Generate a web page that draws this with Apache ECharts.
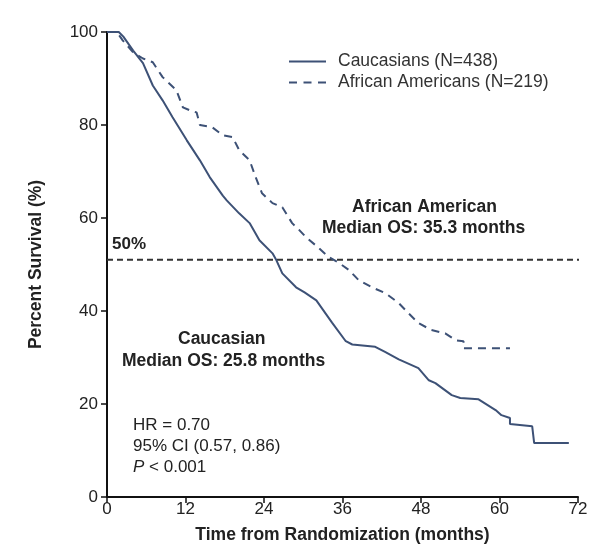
<!DOCTYPE html>
<html>
<head>
<meta charset="utf-8">
<script src="https://cdn.jsdelivr.net/npm/echarts@6/dist/echarts.min.js"></script>
<style>
  html, body { margin: 0; padding: 0; background: #fff; }
  #chart { width: 600px; height: 552px; }
</style>
</head>
<body>
<div id="chart"></div>
<script>
// ---- Data (months, percent survival) ----
const xTicks = [0, 12, 24, 36, 48, 60, 72];
const yTicks = [0, 20, 40, 60, 80, 100];

const caucasianT = [0, 1.8, 2.5, 4, 5.5, 7, 8.5, 10, 12.2, 14.2, 15.7, 17.7, 18.3, 20.2, 21.8, 23.3, 25.3, 25.9, 26.8, 28.9, 30.2, 32, 34.4, 36.5, 37.5, 41, 42.5, 44.6, 47.6, 49.2, 50.2, 52.7, 54, 56.8, 59.4, 60.3, 61.6, 61.6, 65, 65.3, 70.6];
const caucasianV = [100, 100, 99, 96, 93.3, 88.5, 85.3, 81.7, 76.7, 72.4, 68.8, 64.8, 63.8, 61, 58.9, 55.2, 52.4, 50.9, 48.1, 45.1, 44, 42.3, 37.5, 33.5, 32.8, 32.3, 31.2, 29.6, 27.7, 25.1, 24.5, 21.9, 21.3, 21.0, 18.7, 17.6, 17, 15.7, 15.2, 11.6, 11.6];

const africanT = [0, 1.5, 2.4, 4, 5.5, 7, 8.5, 10.6, 11.6, 12.6, 13.7, 14.2, 16.1, 17.7, 19.2, 20.2, 21.8, 22.8, 23.7, 25.3, 26.8, 28.3, 29.4, 30.4, 32, 33.9, 35.5, 37, 38.5, 40.5, 42.6, 44.6, 46.1, 47.6, 49.6, 51.7, 53.3, 54.5, 54.5, 61.6];
const africanV = [100, 100, 98.2, 95.6, 94.3, 93.5, 90.3, 87.5, 83.8, 83.2, 82.7, 80, 79.5, 77.8, 77.4, 74.6, 72.4, 68.5, 65.3, 63.2, 62.3, 58.9, 57.4, 55.9, 54, 51.6, 50.3, 48.8, 46.6, 45.1, 43.8, 41.7, 39.5, 37.4, 35.9, 35.2, 33.7, 33.5, 32, 32];

const medianLevel = 51;      // "50%" reference line as drawn
const seriesNames = ['Caucasians (N=438)', 'African Americans (N=219)'];

// ---- Build options ----
const zip = (t, v) => t.map((x, i) => [x, v[i]]);
const curveColor = '#3d5176';
const textColor = '#222';
const font = 'Liberation Sans, Arial, sans-serif';
const fs = 17.5;

const chart = echarts.init(document.getElementById('chart'), null, { renderer: 'canvas' });
chart.setOption({
  animation: false,
  backgroundColor: '#fff',
  textStyle: { fontFamily: font },
  grid: { left: 107, right: 22, top: 32, bottom: 55, containLabel: false },
  legend: {
    orient: 'vertical',
    left: 289,
    top: 52,
    padding: 0,
    itemWidth: 37,
    itemHeight: 2,
    itemGap: 2,
    data: [
      { name: seriesNames[0], icon: 'path://M0,0h37v2h-37z' },
      { name: seriesNames[1], icon: 'path://M0,0h8v2h-8z M14.5,0h8v2h-8z M29,0h8v2h-8z' }
    ],
    itemStyle: { color: curveColor },
    textStyle: { fontFamily: font, fontSize: fs, color: '#333', lineHeight: 19, padding: [0, 0, 0, 7] }
  },
  xAxis: {
    type: 'value', min: 0, max: 72, interval: 12,
    name: 'Time from Randomization (months)',
    nameLocation: 'middle', nameGap: 29,
    nameTextStyle: { fontFamily: font, fontSize: fs, fontWeight: 'bold', color: textColor },
    axisLine: { show: true, onZero: false, lineStyle: { color: '#111', width: 2 } },
    axisTick: { show: true, length: 6, lineStyle: { color: '#111', width: 1.5 } },
    axisLabel: { fontFamily: font, fontSize: 17, color: textColor, margin: 4,
      formatter: v => xTicks.includes(v) ? String(v) : '' },
    splitLine: { show: false }
  },
  yAxis: {
    type: 'value', min: 0, max: 100, interval: 20,
    name: 'Percent Survival (%)',
    nameLocation: 'middle', nameGap: 62,
    nameTextStyle: { fontFamily: font, fontSize: fs, fontWeight: 'bold', color: textColor },
    axisLine: { show: true, onZero: false, lineStyle: { color: '#111', width: 2 } },
    axisTick: { show: true, length: 6, lineStyle: { color: '#111', width: 1.5 } },
    axisLabel: { fontFamily: font, fontSize: 17, color: textColor, margin: 9,
      formatter: v => yTicks.includes(v) ? String(v) : '' },
    splitLine: { show: false }
  },
  series: [
    {
      name: seriesNames[0], type: 'line', data: zip(caucasianT, caucasianV),
      symbol: 'none', showSymbol: false, smooth: false,
      itemStyle: { color: curveColor },
      lineStyle: { color: curveColor, width: 2 },
      z: 3
    },
    {
      name: seriesNames[1], type: 'line', data: zip(africanT, africanV),
      symbol: 'none', showSymbol: false, smooth: false,
      itemStyle: { color: curveColor },
      lineStyle: { color: curveColor, width: 2, type: [8, 6] },
      z: 3
    },
    {
      name: '50%', type: 'line', data: [[0, medianLevel], [72.5, medianLevel]],
      symbol: 'none', showSymbol: false, silent: true,
      lineStyle: { color: '#333', width: 2, type: [6, 4] },
      z: 2
    }
  ],
  graphic: [
    { type: 'text', left: 112, top: 236, style: { text: '50%', fontFamily: font, fontSize: 17, fontWeight: 'bold', fill: textColor } },
    { type: 'text', left: 352, top: 198, style: { text: 'African American', fontFamily: font, fontSize: fs, fontWeight: 'bold', fill: textColor } },
    { type: 'text', left: 322, top: 219, style: { text: 'Median OS: 35.3 months', fontFamily: font, fontSize: fs, fontWeight: 'bold', fill: textColor } },
    { type: 'text', left: 178, top: 330, style: { text: 'Caucasian', fontFamily: font, fontSize: fs, fontWeight: 'bold', fill: textColor } },
    { type: 'text', left: 122, top: 352, style: { text: 'Median OS: 25.8 months', fontFamily: font, fontSize: fs, fontWeight: 'bold', fill: textColor } },
    { type: 'text', left: 133, top: 417, style: { text: 'HR = 0.70', fontFamily: font, fontSize: 17, fill: textColor } },
    { type: 'text', left: 133, top: 438, style: { text: '95% CI (0.57, 0.86)', fontFamily: font, fontSize: 17, fill: textColor } },
    { type: 'text', left: 133, top: 459, style: { text: '{i|P} < 0.001', fontFamily: font, fontSize: 17, fill: textColor,
        rich: { i: { fontFamily: font, fontSize: 17, fontStyle: 'italic', fill: textColor } } } }
  ]
});
</script>
</body>
</html>
